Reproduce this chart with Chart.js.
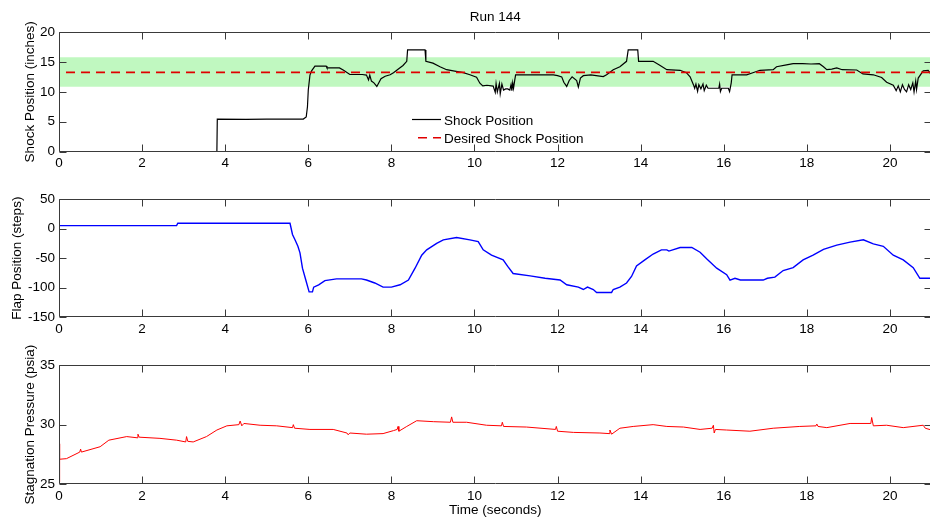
<!DOCTYPE html>
<html lang="en">
<head>
<meta charset="UTF-8">
<title>Run 144</title>
<script src="https://cdn.jsdelivr.net/npm/chart.js@4.4.1/dist/chart.umd.min.js"></script>
<style>
    html, body { margin: 0; padding: 0; background: #fff; overflow: hidden; }
    #wrap { position: relative; width: 930px; height: 523px; overflow: hidden; }
    .panel { position: absolute; left: 0; width: 932px; }
    canvas { display: block; }
</style>
</head>
<body>
<div id="wrap">
    <div class="panel" style="top:0;height:180px"><canvas id="shock" width="932" height="180"></canvas></div>
    <div class="panel" style="top:180px;height:165px"><canvas id="flap" width="932" height="165"></canvas></div>
    <div class="panel" style="top:345px;height:178px"><canvas id="press" width="932" height="178"></canvas></div>
</div>

<script>
    // shock position (inches) vs time (s)
    const shockTime = [3.80, 3.81, 4.5, 5.0, 5.5, 5.88, 5.95, 5.98, 6.0, 6.04, 6.08, 6.16, 6.43, 6.45, 6.75, 6.85, 7.0, 7.3,
        7.4, 7.45, 7.48, 7.52, 7.58, 7.65, 7.75, 7.85, 7.97, 8.05, 8.2, 8.28, 8.37, 8.39, 8.81, 8.83, 9.0, 9.17, 9.33,
        9.49, 9.73, 9.89, 10.05, 10.13, 10.2, 10.3, 10.45, 10.5, 10.52, 10.55, 10.6, 10.62, 10.66, 10.7, 10.75, 10.8,
        10.85, 10.88, 10.9, 10.92, 10.94, 10.97, 10.99, 11.5, 11.9, 12.0, 12.1, 12.15, 12.22, 12.28, 12.35, 12.46, 12.5,
        12.55, 12.62, 12.8, 13.1, 13.18, 13.34, 13.5, 13.66, 13.70, 13.93, 13.95, 14.3, 14.45, 14.63, 14.95, 15.1, 15.19,
        15.27, 15.3, 15.33, 15.37, 15.4, 15.45, 15.5, 15.53, 15.58, 15.62, 15.67, 15.88, 15.9, 15.92, 15.95, 16.11, 16.14,
        16.18, 16.2, 16.55, 16.7, 16.87, 17.19, 17.27, 17.51, 17.67, 17.9, 18.1, 18.3, 18.4, 18.48, 18.6, 18.72, 18.85,
        19.2, 19.35, 19.6, 19.8, 19.92, 20.08, 20.15, 20.2, 20.25, 20.3, 20.35, 20.4, 20.45, 20.5, 20.55, 20.58, 20.62,
        20.64, 20.68, 20.8, 20.92, 21.0];
    const shockPos = [0, 5.45, 5.4, 5.45, 5.45, 5.45, 5.8, 7.5, 10.3, 12.8, 13.5, 14.3, 14.3, 14.0, 14.0, 13.6, 12.9, 12.9,
        12.8, 12.0, 12.8, 11.8, 11.5, 10.9, 12.2, 12.6, 12.85, 13.2, 14.0, 14.4, 15.1, 17.0, 17.0, 15.1, 14.8, 14.2, 13.7,
        13.5, 13.2, 12.85, 12.45, 11.45, 11.0, 11.1, 10.95, 9.9, 11.4, 10.0, 11.4, 9.7, 11.3, 10.3, 10.5, 10.5,
        10.3, 11.2, 10.2, 11.5, 10.6, 12.0, 12.85, 12.85, 12.85, 12.7, 12.5, 11.6, 10.9, 11.9, 12.5, 11.9, 10.8,
        12.3, 12.7, 12.85, 12.55, 12.85, 13.7, 14.2, 15.1, 17.0, 17.0, 15.1, 15.1, 14.5, 13.7, 13.6, 13.2, 12.5,
        11.2, 10.6, 11.3, 10.1, 11.2, 10.5, 11.3, 10.2, 11.1, 10.6, 10.6, 10.6, 11.3, 10.05, 10.6, 10.6, 10.05,
        11.5, 12.85, 12.85, 13.2, 13.6, 13.7, 14.2, 14.5, 14.7, 14.7, 14.65, 14.7, 14.2, 13.7, 13.8, 14.0, 13.7,
        13.65, 13.0, 12.85, 12.4, 11.6, 11.1, 10.2, 11.0, 10.0, 11.2, 10.4, 10.0, 11.2, 10.4, 11.5, 10.0, 11.8,
        10.4, 12.3, 13.5, 13.6, 12.85];
    const desiredShock = 13.25;
    const bandLow = 10.85;
    const bandHigh = 15.8;

    // flap position (steps) vs time (s)
    const flapTime = [0, 2.83, 2.86, 5.56, 5.62, 5.68, 5.75, 5.8, 5.86, 5.94, 6.02, 6.1, 6.13, 6.25, 6.4, 6.68, 7.28, 7.4,
        7.6, 7.8, 8.0, 8.21, 8.41, 8.57, 8.73, 8.85, 9.09, 9.25, 9.57, 9.89, 10.09, 10.21, 10.41, 10.69, 10.8, 10.93,
        11.34, 11.7, 12.06, 12.22, 12.5, 12.62, 12.72, 12.86, 12.94, 13.3, 13.34, 13.5, 13.66, 13.78, 13.9, 14.1, 14.3,
        14.5, 14.63, 14.68, 14.95, 15.23, 15.43, 15.6, 15.83, 16.07, 16.15, 16.27, 16.4, 16.95, 17.05, 17.23, 17.43,
        17.67, 17.91, 18.15, 18.4, 18.72, 19.04, 19.36, 19.6, 19.84, 20.08, 20.32, 20.56, 20.72, 21.0];
    const flapPos = [5, 5, 9, 9, -10, -19, -30, -41, -67, -87, -107, -107, -99, -95, -88, -85, -85, -87,
        -92, -99, -99, -95, -87, -67, -45, -36, -25, -19, -15, -19, -22, -36, -45, -53, -64, -76,
        -80, -84, -87, -95, -99, -103, -99, -103, -108, -108, -103, -99, -92, -81, -63, -53, -43,
        -36, -36, -38, -32, -32, -40, -52, -67, -78, -87, -84, -87, -87, -84, -82, -71,
        -66, -53, -45, -35, -28, -23, -19, -26, -30, -45, -53, -66, -84, -84];

    // stagnation pressure (psia) vs time (s)
    const pressTime = [0, 0.01, 0.02, 0.18, 0.5, 0.52, 0.54, 0.99, 1.2, 1.63, 1.88, 1.9, 1.93, 2.43, 2.83, 3.05, 3.07,
        3.1, 3.23, 3.55, 3.8, 4.04, 4.33, 4.36, 4.4, 4.45, 4.84, 5.24, 5.62, 5.64, 5.67, 6.04, 6.6, 6.93, 6.96, 7.0,
        7.4, 7.8, 8.05, 8.14, 8.16, 8.18, 8.37, 8.61, 9.01, 9.42, 9.45, 9.48, 9.81, 10.29, 10.65, 10.67, 10.7, 11.25,
        11.95, 11.97, 12.0, 12.38, 13.02, 13.24, 13.26, 13.3, 13.5, 13.82, 14.3, 14.63, 15.03, 15.43, 15.72, 15.75,
        15.77, 15.8, 16.07, 16.63, 17.19, 17.83, 18.22, 18.24, 18.27, 18.48, 19.04, 19.54, 19.56, 19.6, 19.92, 20.32,
        20.8, 20.85, 21.0];
    const pressVal = [25.2, 28.4, 27.1, 27.15, 27.7, 27.95, 27.7, 28.15, 28.7, 29.0, 28.9, 29.2, 28.95, 28.85, 28.7, 28.55, 29.0,
        28.6, 28.55, 29.0, 29.55, 29.9, 30.0, 30.3, 29.9, 30.1, 29.95, 29.9, 29.75, 30.0, 29.7, 29.6, 29.6, 29.3, 29.15, 29.3,
        29.2, 29.25, 29.5, 29.6, 29.85, 29.45, 29.85, 30.33, 30.25, 30.2, 30.65, 30.2, 30.2, 29.95, 29.9, 30.2, 29.85, 29.8,
        29.6, 29.85, 29.45, 29.35, 29.3, 29.25, 29.55, 29.2, 29.7, 29.85, 30.0, 29.85, 29.8, 29.6, 29.7, 29.95,
        29.3, 29.6, 29.55, 29.45, 29.7, 29.85, 29.9, 30.05, 29.85, 29.75, 30.1, 30.1, 30.6, 29.9, 29.95, 29.75,
        29.95, 29.7, 29.55];

    const xTicks = {min: 0, max: 21, step: 2};
    const FONT = {family: '"Liberation Sans", Arial, sans-serif', size: 13.5};

    const pts = (xs, ys) => xs.map((x, i) => ({x: x, y: ys[i]}));

    // box around the plot area with matlab-style inward ticks
    const frameTicks = {
        id: 'frameTicks',
        afterDatasetsDraw(chart) {
            const {ctx, chartArea: a, scales: {x, y}} = chart;
            const L = Math.round(a.left) + 0.5, R = Math.round(a.right) - 0.5;
            const T = Math.round(a.top) + 0.5, B = Math.round(a.bottom) - 0.5;
            ctx.save();
            ctx.strokeStyle = '#3a3a3a';
            ctx.lineWidth = 1;
            ctx.beginPath();
            ctx.rect(L, T, R - L, B - T);
            x.ticks.forEach(t => {
                const px = Math.round(x.getPixelForValue(t.value)) + 0.5;
                ctx.moveTo(px, B); ctx.lineTo(px, B - 7);
                ctx.moveTo(px, T); ctx.lineTo(px, T + 7);
            });
            y.ticks.forEach(t => {
                const py = Math.round(y.getPixelForValue(t.value)) + 0.5;
                ctx.moveTo(L, py); ctx.lineTo(L + 7, py);
                ctx.moveTo(R, py); ctx.lineTo(R - 7, py);
            });
            ctx.stroke();
            ctx.restore();
        }
    };

    // legend placed inside the plot, lines and labels only
    const insideLegend = {
        id: 'insideLegend',
        afterDraw(chart, args, opts) {
            if (!opts.show) return;
            const ctx = chart.ctx;
            chart.data.datasets.filter(d => d.label).forEach((d, i) => {
                const y = opts.y + i * opts.gap;
                ctx.save();
                ctx.strokeStyle = d.borderColor;
                ctx.lineWidth = d.borderWidth;
                ctx.setLineDash(d.borderDash || []);
                ctx.lineDashOffset = 9;
                ctx.beginPath();
                ctx.moveTo(opts.x, y);
                ctx.lineTo(opts.x + 29, y);
                ctx.stroke();
                ctx.setLineDash([]);
                ctx.fillStyle = '#000';
                ctx.font = FONT.size + 'px ' + FONT.family;
                ctx.textBaseline = 'middle';
                ctx.fillText(d.label, opts.x + 32, y + 1.5);
                ctx.restore();
            });
        }
    };

    function xScale(height, title) {
        return {
            type: 'linear',
            min: xTicks.min,
            max: xTicks.max,
            afterBuildTicks: s => { s.ticks = s.ticks.filter(t => t.value % xTicks.step === 0); },
            afterFit: s => { s.height = height; },
            grid: {display: false, drawTicks: false},
            border: {display: false},
            ticks: {stepSize: xTicks.step, padding: 3.7, color: '#000', font: FONT, maxRotation: 0, autoSkip: false},
            title: {display: !!title, text: title, color: '#000', font: FONT, padding: {top: 0, bottom: 4.7}}
        };
    }

    function yScale(min, max, step, title, titleGap) {
        return {
            type: 'linear',
            min: min,
            max: max,
            afterFit: s => { s.width = 59; },
            grid: {display: false, drawTicks: false},
            border: {display: false},
            ticks: {stepSize: step, padding: 4, color: '#000', font: FONT},
            title: {display: true, text: title, color: '#000', font: FONT, padding: {top: titleGap, bottom: 0}}
        };
    }

    function makeChart(id, datasets, scales, padTop, extra) {
        return new Chart(document.getElementById(id), {
            type: 'line',
            data: {datasets: datasets},
            options: {
                responsive: false,
                animation: false,
                layout: {padding: {top: padTop, right: 0.5, bottom: 0, left: 0}},
                elements: {point: {radius: 0}, line: {tension: 0}},
                scales: scales,
                plugins: Object.assign({
                    legend: {display: false},
                    tooltip: {enabled: false},
                    title: {display: false},
                    insideLegend: {show: false}
                }, extra || {})
            },
            plugins: [frameTicks, insideLegend]
        });
    }

    makeChart('shock', [
        {
            label: 'Shock Position',
            data: pts(shockTime, shockPos),
            borderColor: '#000000',
            borderWidth: 1.2,
            order: 1
        },
        {
            label: 'Desired Shock Position',
            data: [{x: xTicks.min, y: desiredShock}, {x: xTicks.max, y: desiredShock}],
            borderColor: '#e00000',
            borderWidth: 1.6,
            borderDash: [9, 6],
            borderDashOffset: 8,
            order: 0
        },
        {
            data: [{x: xTicks.min, y: bandHigh}, {x: xTicks.max, y: bandHigh}],
            borderColor: 'transparent',
            borderWidth: 0,
            backgroundColor: '#c0f8c0',
            fill: {value: bandLow},
            order: 2
        }
    ], {
        x: xScale(28.3),
        y: yScale(0, 20, 5, 'Shock Position (inches)', 22)
    }, 0, {
        title: {
            display: true, text: 'Run 144', color: '#000', fullSize: false,
            font: Object.assign({weight: 'normal'}, FONT), padding: {top: 9, bottom: 6.8}
        },
        insideLegend: {show: true, x: 412, y: 119.5, gap: 18.3}
    });

    makeChart('flap', [
        {
            label: 'Flap Position',
            data: pts(flapTime, flapPos),
            borderColor: '#0000ff',
            borderWidth: 1.4
        }
    ], {
        x: xScale(27.7),
        y: yScale(-150, 50, 50, 'Flap Position (steps)', 9.5)
    }, 19);

    makeChart('press', [
        {
            label: 'Stagnation Pressure',
            data: pts(pressTime, pressVal),
            borderColor: '#ff0000',
            borderWidth: 1
        }
    ], {
        x: xScale(38.7, 'Time (seconds)'),
        y: yScale(25, 35, 5, 'Stagnation Pressure (psia)', 22)
    }, 20);
</script>
</body>
</html>
